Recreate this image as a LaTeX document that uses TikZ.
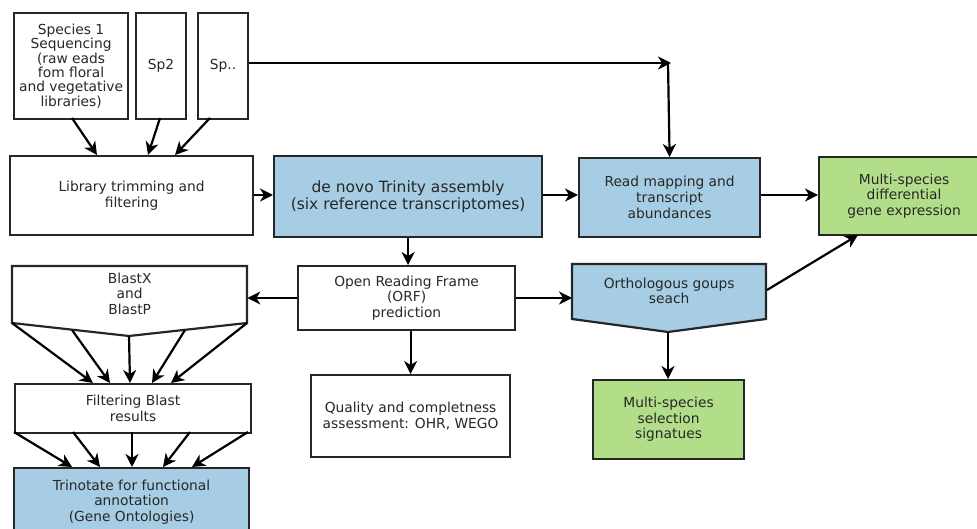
\documentclass[tikz,border=0pt]{standalone}
\usepackage{fontspec}
\setmainfont{DejaVu Sans}
\usetikzlibrary{arrows.meta}
\definecolor{bluefill}{RGB}{166,205,227}
\definecolor{greenfill}{RGB}{178,222,138}
\definecolor{txt}{RGB}{40,40,40}
\begin{document}
\begin{tikzpicture}[x=1pt,y=-1pt,
  box/.style={draw=black!85,line width=2.2pt,anchor=north west,align=center,inner sep=1pt,
    text=txt,font=\fontsize{13.8}{15.5}\selectfont},
  plain/.style={box,fill=white},
  blue/.style={box,fill=bluefill},
  green/.style={box,fill=greenfill},
  txtonly/.style={anchor=north west,align=center,inner sep=0pt,text=txt,font=\fontsize{13.8}{15.5}\selectfont},
  arr/.style={line width=2.2pt,-{Stealth[length=13pt,width=13pt,inset=4pt]}},
  shp/.style={line width=2.2pt,draw=black!85}]
\useasboundingbox (0,0) rectangle (977,529);
\clip (0,0) rectangle (977,529);

% top species boxes
\node[plain,minimum width=114pt,minimum height=106pt,font=\fontsize{13.8}{14.3}\selectfont] (sp1) at (13,12)
  {Species 1\\Sequencing\\(raw eads\\fom floral\\and vegetative\\libraries)};
\node[plain,minimum width=50pt,minimum height=106pt] (sp2) at (135,12) {Sp2};
\node[plain,minimum width=50pt,minimum height=106pt] (sp3) at (197,12) {Sp..};

% row 2
\node[plain,minimum width=243pt,minimum height=79pt] (lib) at (9,155) {Library trimming and\\filtering};
\node[blue,minimum width=268pt,minimum height=81pt,font=\fontsize{15.5}{17}\selectfont] (dn) at (273,155)
  {de novo Trinity assembly\\(six reference transcriptomes)};
\node[blue,minimum width=181pt,minimum height=79pt,font=\fontsize{13.8}{16}\selectfont] (rm) at (578,157)
  {Read mapping and\\transcript\\abundances};
\node[green,minimum width=170pt,minimum height=78pt] (diff) at (818,156)
  {Multi-species\\differential\\gene expression};

% row 3
\node[plain,minimum width=217pt,minimum height=64pt] (orf) at (297,265)
  {Open Reading Frame\\(ORF)\\prediction};
\draw[shp,fill=white] (12,266) -- (247,266) -- (247,323) -- (129,336) -- (12,323) -- cycle;
\node[txtonly,minimum width=235pt,minimum height=55pt] (bx) at (12,266) {BlastX\\and\\BlastP};
\draw[shp,fill=bluefill] (572,264) -- (766,264) -- (766,319) -- (668,332) -- (572,319) -- cycle;
\node[txtonly,minimum width=194pt,minimum height=53pt] (orth) at (572,264) {Orthologous goups\\seach};
\coordinate (orthtip) at (668,332);

% row 4
\node[plain,minimum width=199pt,minimum height=82pt] (qual) at (310,374)
  {Quality and completness\\assessment: OHR, WEGO};
\node[green,minimum width=151pt,minimum height=79pt] (sel) at (592,379)
  {Multi-species\\selection\\signatues};
\node[plain,minimum width=236pt,minimum height=49pt] (filt) at (14,383) {Filtering Blast\\results};
\node[blue,minimum width=235pt,minimum height=68pt] (tri) at (13,467)
  {Trinotate for functional\\annotation\\(Gene Ontologies)};

% species arrows
\coordinate (s1b) at (72,118);
\coordinate (s2b) at (160,118);
\coordinate (s3b) at (210,118);
\coordinate (l1) at (97,155);
\coordinate (l2) at (148,155);
\coordinate (l3) at (175,155);
\draw[arr] (s1b) -- (l1);
\draw[arr] (s2b) -- (l2);
\draw[arr] (s3b) -- (l3);
% Sp.. to read mapping
\coordinate (corner) at (668,63);
\draw[arr] (sp3.east |- corner) -- ([xshift=3pt]corner);
\draw[arr] (corner) -- (rm.north);

% main flow
\draw[arr] (lib.east |- 0,195) -- (dn.west |- 0,195);
\draw[arr] (dn.east |- 0,195) -- (rm.west |- 0,195);
\draw[arr] (rm.east |- 0,195) -- (diff.west |- 0,195);
\draw[arr] (dn.south) -- (orf.north -| dn.south);
\draw[arr] (orf.south -| qual.north) -- (qual.north);
\draw[arr] (orf.west |- 0,298) -- (bx.east |- 0,298);
\draw[arr] (orf.east |- 0,298) -- (orth.west |- 0,298);
\draw[arr] (orthtip) -- (sel.north -| orthtip);
\coordinate (oe) at (767,290);
\coordinate (de) at (858,235);
\draw[arr] (oe) -- (de);

% BlastX to filtering
\coordinate (b1) at (12,323);
\coordinate (b2) at (72,330);
\coordinate (b3) at (129,336);
\coordinate (b4) at (185,330);
\coordinate (b5) at (247,323);
\coordinate (f1) at (93,383);
\coordinate (f2) at (110,383);
\coordinate (f3) at (130,383);
\coordinate (f4) at (152,383);
\coordinate (f5) at (171,383);
\foreach \i in {1,...,5} \draw[arr] (b\i) -- (f\i);

% filtering to trinotate
\coordinate (g1) at (14,432);
\coordinate (g2) at (73,432);
\coordinate (g3) at (132,432);
\coordinate (g4) at (190,432);
\coordinate (g5) at (248,432);
\coordinate (t1) at (72,467);
\coordinate (t2) at (100,467);
\coordinate (t3) at (132,467);
\coordinate (t4) at (163,467);
\coordinate (t5) at (192,467);
\foreach \i in {1,...,5} \draw[arr] (g\i) -- (t\i);
\end{tikzpicture}
\end{document}
